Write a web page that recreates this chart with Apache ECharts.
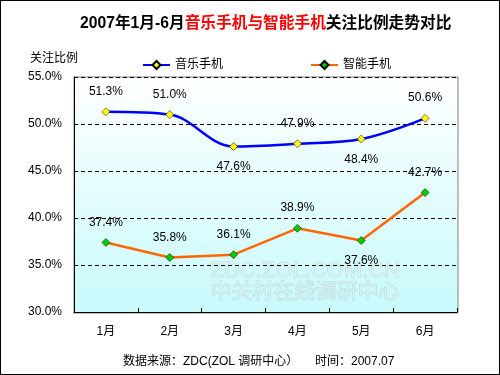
<!DOCTYPE html>
<html><head><meta charset="utf-8">
<script src="https://cdn.jsdelivr.net/npm/echarts@6/dist/echarts.min.js"></script>
<style>html,body{margin:0;padding:0;background:#fff}#c{width:500px;height:375px;box-sizing:border-box;border:1px solid #000}</style>
</head><body><div id="c"></div>
<script>
const categories = ['1月','2月','3月','4月','5月','6月'];
const musicPhone = [51.3, 51.0, 47.6, 47.9, 48.4, 50.6];
const smartPhone = [37.4, 35.8, 36.1, 38.9, 37.6, 42.7];
const musicLabelPos = ['top','top','bottom','top','bottom','top'];
const smartLabelPos = ['top','top','top','top','bottom','top'];
const yTicks = {min:30, max:55, interval:5};

const chart = echarts.init(document.getElementById('c'), null, {renderer:'canvas'});
const font = 'Arial, "Noto Sans CJK SC", sans-serif';
const lbl = {fontFamily: font, fontSize: 12, color:'#000', formatter: p => p.value.toFixed(1)+'%'};
chart.setOption({
  animation:false,
  textStyle:{fontFamily:font},
  title:{
    text:'{b|2007年1月-6月}{r|音乐手机与智能手机}{b|关注比例走势对比}',
    left:79, top:15, padding:0,
    textStyle:{rich:{
      b:{fontSize:15.7, fontWeight:'bold', color:'#000', fontFamily:font},
      r:{fontSize:15.7, fontWeight:'bold', color:'#ff0000', fontFamily:font}
    }}
  },
  legend:{
    top:58, left:141, padding:0, itemGap:87, itemWidth:27, itemHeight:10,
    textStyle:{fontSize:12, color:'#000', fontFamily:font},
    data:['音乐手机','智能手机']
  },
  grid:{left:73, right:42, top:76, bottom:62},
  xAxis:{
    type:'category', data:categories, boundaryGap:true,
    axisLine:{lineStyle:{color:'#000'}},
    axisTick:{show:true, alignWithLabel:false, lineStyle:{color:'#000'}, length:4, inside:true},
    axisLabel:{color:'#000', fontSize:12, margin:14}
  },
  yAxis:{
    type:'value', min:yTicks.min, max:yTicks.max, interval:yTicks.interval,
    name:'关注比例', nameLocation:'end', nameGap:12,
    nameTextStyle:{color:'#000', fontSize:12, align:'right', padding:[0,-4,0,0]},
    axisLine:{show:true, lineStyle:{color:'#000'}},
    axisTick:{show:false},
    axisLabel:{color:'#000', fontSize:12, margin:12, formatter: v => v.toFixed(1)+'%'},
    splitLine:{show:true, lineStyle:{color:'#000', type:[4,3], width:1}},
    splitArea:{show:false}
  },
  graphic:[
    {type:'rect', z:-1, shape:{x:73, y:76, width:384, height:236},
     style:{fill:new echarts.graphic.LinearGradient(0,0,0,1,[{offset:0,color:'#ffffff'},{offset:1,color:'#c8fafc'}]), stroke:'#808080', lineWidth:1}},
    {type:'text', left:122, top:355, style:{text:'数据来源：ZDC(ZOL 调研中心）     时间：2007.07', fontSize:12, fill:'#000', fontFamily:font}},
    {type:'text', left:209, top:258, z:0, style:{text:'ZDC.ZOL.COM.CN', fontSize:22, fill:'rgba(255,255,255,0.3)', stroke:'rgba(150,160,160,0.3)', lineWidth:1, fontFamily:font}},
    {type:'text', left:209, top:280, z:0, style:{text:'中关村在线调研中心', fontSize:21, fill:'rgba(255,255,255,0.3)', stroke:'rgba(150,160,160,0.3)', lineWidth:1, fontFamily:font}}
  ],
  series:[
    {name:'音乐手机', type:'line', data:musicPhone.map((v,i)=>({value:v, label:{position:musicLabelPos[i]}})),
     smooth:0.35, symbol:'diamond', symbolSize:8,
     lineStyle:{color:'#0000ff', width:2.5},
     itemStyle:{color:'#ffff00', borderColor:'#000', borderWidth:0.5},
     label:Object.assign({show:true, distance:10}, lbl)},
    {name:'智能手机', type:'line', data:smartPhone.map((v,i)=>({value:v, label:{position:smartLabelPos[i]}})),
     smooth:false, symbol:'diamond', symbolSize:8,
     lineStyle:{color:'#ff6600', width:2.5},
     itemStyle:{color:'#00cc00', borderColor:'#000', borderWidth:0.5},
     label:Object.assign({show:true, distance:10}, lbl)}
  ]
});
</script></body></html>
